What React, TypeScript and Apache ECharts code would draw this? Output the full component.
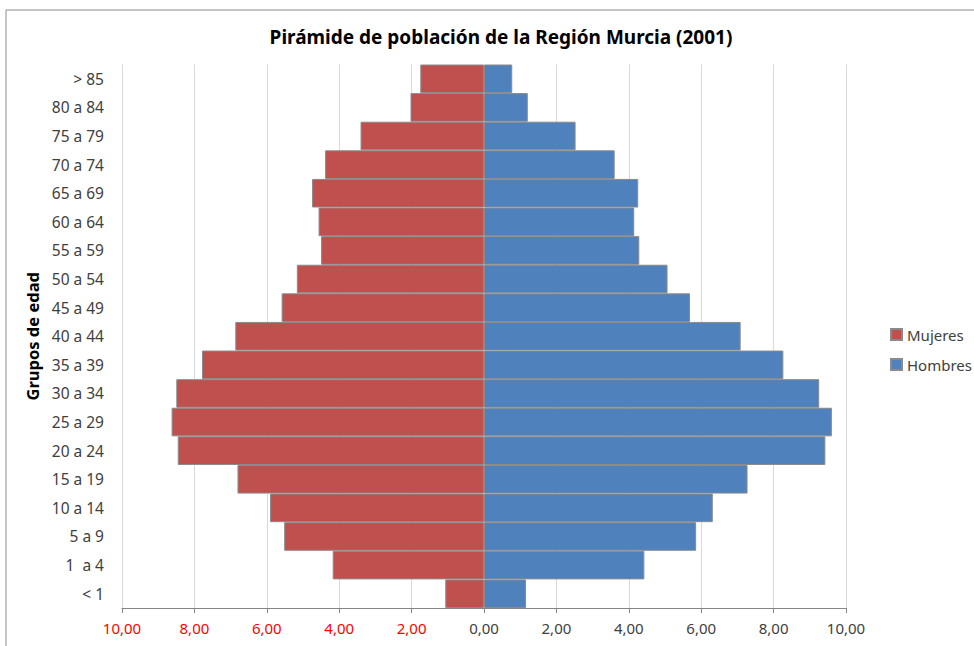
import React, { useEffect, useRef } from "react";
import * as echarts from "echarts";

const categories = [
  "< 1", "1  a 4", "5 a 9", "10 a 14", "15 a 19", "20 a 24", "25 a 29", "30 a 34",
  "35 a 39", "40 a 44", "45 a 49", "50 a 54", "55 a 59", "60 a 64", "65 a 69",
  "70 a 74", "75 a 79", "80 a 84", "> 85",
];
// Percent of population, women shown to the left (negative)
const mujeres = [
  -1.07, -4.18, -5.52, -5.91, -6.81, -8.46, -8.63, -8.5, -7.79, -6.87, -5.59, -5.17,
  -4.5, -4.57, -4.75, -4.39, -3.41, -2.03, -1.76,
];
const hombres = [
  1.16, 4.43, 5.86, 6.32, 7.28, 9.43, 9.61, 9.26, 8.27, 7.09, 5.69, 5.07,
  4.29, 4.15, 4.26, 3.61, 2.53, 1.21, 0.78,
];
const seriesNames = ["Mujeres", "Hombres"];
const title = "Pirámide de población de la Región Murcia (2001)";
const yAxisName = "Grupos de edad";

const FONT = "Noto Sans";

export default function App() {
  const ref = useRef<HTMLDivElement>(null);
  useEffect(() => {
    document.body.style.margin = "0";
    const chart = echarts.init(ref.current!, undefined, { renderer: "svg" });
    chart.setOption({
      animation: false,
      backgroundColor: "#ffffff",
      textStyle: { fontFamily: FONT },
      graphic: [
        {
          type: "rect",
          silent: true,
          shape: { x: 6, y: 10, width: 1000, height: 700 },
          style: { fill: "none", stroke: "#8c8c8c", lineWidth: 1 },
        },
      ],
      title: {
        text: title,
        left: 496,
        textAlign: "center",
        top: 22,
        textStyle: { fontFamily: FONT, fontSize: 19, fontWeight: "bold", color: "#000" },
      },
      legend: {
        orient: "vertical",
        left: 885,
        top: 322,
        itemWidth: 11,
        itemHeight: 11,
        itemGap: 15,
        icon: "rect",
        data: seriesNames,
        textStyle: { fontFamily: FONT, fontSize: 15, color: "#404040", padding: [0, 0, 0, 0] },
      },
      grid: { left: 122, right: 128, top: 64.5, bottom: 38, containLabel: false },
      xAxis: {
        type: "value",
        min: -10,
        max: 10,
        interval: 2,
        axisLine: { show: true, lineStyle: { color: "#868686" } },
        axisTick: { show: true, length: 5, lineStyle: { color: "#868686" } },
        splitLine: { show: true, lineStyle: { color: "#d9d9d9", width: 1 } },
        axisLabel: {
          margin: 12,
          fontFamily: FONT,
          fontSize: 15,
          formatter: (v: number) => {
            const s = Math.abs(v).toFixed(2).replace(".", ",");
            return v < 0 ? "{r|" + s + "}" : "{k|" + s + "}";
          },
          rich: {
            r: { color: "#ff0000", fontFamily: FONT, fontSize: 15 },
            k: { color: "#404040", fontFamily: FONT, fontSize: 15 },
          },
        },
      },
      yAxis: {
        type: "category",
        data: categories,
        name: yAxisName,
        nameLocation: "middle",
        nameRotate: 90,
        nameGap: 78,
        nameTextStyle: { fontFamily: FONT, fontSize: 16.5, fontWeight: "bold", color: "#000" },
        axisLine: { show: false },
        axisTick: { show: false },
        axisLabel: { margin: 18, fontFamily: FONT, fontSize: 15.5, color: "#404040" },
      },
      series: [
        {
          name: seriesNames[0],
          type: "bar",
          stack: "total",
          barCategoryGap: 0,
          data: mujeres,
          itemStyle: { color: "#C0504D", borderColor: "#8a8a8a", borderWidth: 1 },
        },
        {
          name: seriesNames[1],
          type: "bar",
          stack: "total",
          barCategoryGap: 0,
          data: hombres,
          itemStyle: { color: "#4F81BD", borderColor: "#8a8a8a", borderWidth: 1 },
        },
      ],
    });
    return () => chart.dispose();
  }, []);
  return <div ref={ref} style={{ width: 974, height: 646 }} />;
}
